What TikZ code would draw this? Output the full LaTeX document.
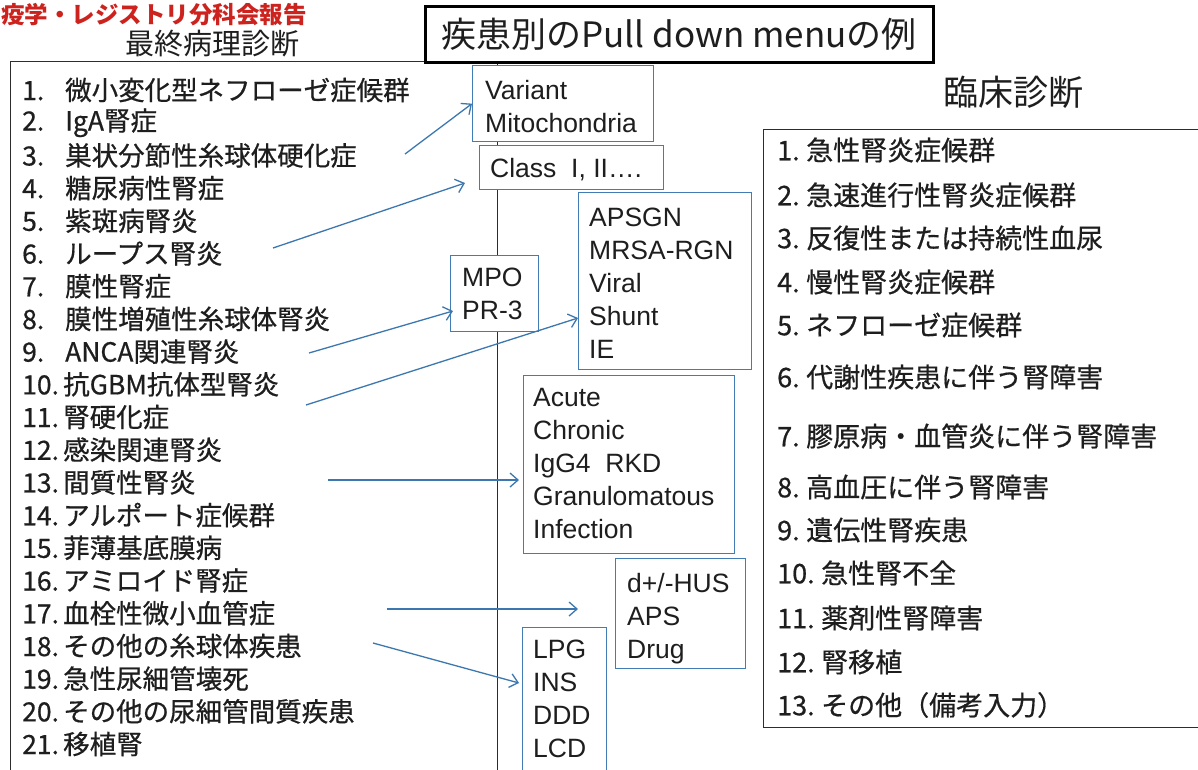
\documentclass[tikz,border=0pt]{standalone}
\usepackage{fontspec}
\setmainfont{Liberation Sans}
\newfontfamily\jp{Noto Sans CJK JP}
\newfontfamily\jpm[FakeBold=0.6]{Noto Sans CJK JP}
\usetikzlibrary{arrows.meta}
\definecolor{bblue}{RGB}{65,125,180}
\definecolor{aline}{RGB}{60,120,175}
\definecolor{rtitle}{RGB}{205,35,30}
\definecolor{ink}{RGB}{30,30,30}
\definecolor{framec}{RGB}{45,45,45}
\newcommand{\Lf}{\jpm\fontsize{26.5}{30}\selectfont}
\newcommand{\Rf}{\jpm\fontsize{27}{30}\selectfont}
\newcommand{\nA}[1]{\makebox[43pt][l]{#1}}
\newcommand{\nB}[1]{\makebox[41pt][l]{#1}}
\newcommand{\rA}[1]{\makebox[29pt][l]{#1}}
\newcommand{\rB}[1]{\makebox[44pt][l]{#1}}
\tikzset{
  litem/.style={anchor=west, inner sep=0pt, font=\Lf, text=ink},
  ritem/.style={anchor=west, inner sep=0pt, font=\Rf, text=ink},
  bbox/.style={draw=bblue, line width=1.3pt, fill=white, anchor=north west, inner sep=0pt},
  btext/.style={anchor=north west, inner sep=0pt, align=left, font=\fontsize{26.5}{33}\selectfont, text=ink},
  conn/.style={draw=aline, line width=1.3pt, -{Straight Barb[length=8pt,width=14pt]}},
  framebox/.style={draw=framec, line width=1.3pt, anchor=north west, inner sep=0pt},
}
\begin{document}
\begin{tikzpicture}[x=1pt,y=-1pt]
\useasboundingbox (0,0) rectangle (1198,769);
\clip (0,0) rectangle (1198,769);
\fill[white] (0,0) rectangle (1198,769);

% frames
\node[framebox, minimum width=487, minimum height=760] (leftframe) at (10,61) {};
\node[framebox, minimum width=470, minimum height=598] (rightframe) at (763,129) {};
\node[draw=black, line width=3pt, fill=white, minimum width=508, minimum height=56, inner sep=0pt,
      font=\jp\fontsize{35}{40}\selectfont, text=ink] (title) at (679,34) {疾患別のPull down menuの例};

% headings
\node[anchor=west, inner sep=0pt, font=\jp\bfseries\fontsize{23.5}{28}\selectfont, text=rtitle] (red) at (1,15) {疫学・レジストリ分科会報告};
\node[inner sep=0pt, font=\jp\fontsize{29}{32}\selectfont, text=ink] (hleft) at (212,44) {最終病理診断};
\node[inner sep=0pt, font=\jp\fontsize{35}{40}\selectfont, text=ink] (hright) at (1013,92) {臨床診断};

% left list
\node[litem] (l1) at (22,90) {\nA{1.}微小変化型ネフローゼ症候群};
\node[litem] (l2) at (22,122.7) {\nA{2.}IgA腎症};
\node[litem] (l3) at (22,155.4) {\nA{3.}巣状分節性糸球体硬化症};
\node[litem] (l4) at (22,188.1) {\nA{4.}糖尿病性腎症};
\node[litem] (l5) at (22,220.8) {\nA{5.}紫斑病腎炎};
\node[litem] (l6) at (22,253.5) {\nA{6.}ループス腎炎};
\node[litem] (l7) at (22,286.2) {\nA{7.}膜性腎症};
\node[litem] (l8) at (22,318.9) {\nA{8.}膜性増殖性糸球体腎炎};
\node[litem] (l9) at (22,351.6) {\nA{9.}ANCA関連腎炎};
\node[litem] (l10) at (22,384.3) {\nB{10.}抗GBM抗体型腎炎};
\node[litem] (l11) at (22,417) {\nB{11.}腎硬化症};
\node[litem] (l12) at (22,449.7) {\nB{12.}感染関連腎炎};
\node[litem] (l13) at (22,482.4) {\nB{13.}間質性腎炎};
\node[litem] (l14) at (22,515.1) {\nB{14.}アルポート症候群};
\node[litem] (l15) at (22,547.8) {\nB{15.}菲薄基底膜病};
\node[litem] (l16) at (22,580.5) {\nB{16.}アミロイド腎症};
\node[litem] (l17) at (22,613.2) {\nB{17.}血栓性微小血管症};
\node[litem] (l18) at (22,645.9) {\nB{18.}その他の糸球体疾患};
\node[litem] (l19) at (22,678.6) {\nB{19.}急性尿細管壊死};
\node[litem] (l20) at (22,711.3) {\nB{20.}その他の尿細管間質疾患};
\node[litem] (l21) at (22,744) {\nB{21.}移植腎};

% right list
\node[ritem] (r1) at (777,150) {\rA{1.}急性腎炎症候群};
\node[ritem] (r2) at (777,195) {\rA{2.}急速進行性腎炎症候群};
\node[ritem] (r3) at (777,238) {\rA{3.}反復性または持続性血尿};
\node[ritem] (r4) at (777,282) {\rA{4.}慢性腎炎症候群};
\node[ritem] (r5) at (777,325) {\rA{5.}ネフローゼ症候群};
\node[ritem] (r6) at (777,377) {\rA{6.}代謝性疾患に伴う腎障害};
\node[ritem] (r7) at (777,436) {\rA{7.}膠原病・血管炎に伴う腎障害};
\node[ritem] (r8) at (777,487) {\rA{8.}高血圧に伴う腎障害};
\node[ritem] (r9) at (777,530) {\rA{9.}遺伝性腎疾患};
\node[ritem] (r10) at (777,573) {\rB{10.}急性腎不全};
\node[ritem] (r11) at (777,618) {\rB{11.}薬剤性腎障害};
\node[ritem] (r12) at (777,662) {\rB{12.}腎移植};
\node[ritem] (r13) at (777,705) {\rB{13.}その他（備考入力）};

% pull-down boxes
\node[bbox, minimum width=181, minimum height=76] (b1) at (472,65) {};
\node[btext] (t1) at (485,80) {Variant\\Mitochondria};
\node[bbox, minimum width=184, minimum height=44] (b2) at (479,145) {};
\node[btext] (t2) at (490,158) {Class\ \ I, II….};
\node[bbox, minimum width=173, minimum height=177] (b3) at (578,192) {};
\node[btext] (t3) at (589,208) {APSGN\\MRSA-RGN\\Viral\\Shunt\\IE};
\node[bbox, minimum width=88, minimum height=76] (b4) at (450,255) {};
\node[btext] (t4) at (462,268) {MPO\\PR-3};
\node[bbox, minimum width=211, minimum height=178] (b5) at (523,375) {};
\node[btext] (t5) at (533,388) {Acute\\Chronic\\IgG4\ \ RKD\\Granulomatous\\Infection};
\node[bbox, minimum width=130, minimum height=110] (b6) at (615,558) {};
\node[btext] (t6) at (627,573) {d+/-HUS\\APS\\Drug};
\node[bbox, minimum width=84, minimum height=170] (b7) at (522,627) {};
\node[btext] (t7) at (533,640) {LPG\\INS\\DDD\\LCD};

% connector ends
\coordinate (s1) at (405,154);
\coordinate (s2) at (273,248);
\coordinate (e2) at (465,183);
\coordinate (s3) at (309,353);
\coordinate (e3) at (453,311);
\coordinate (s4) at (306,405);
\coordinate (e4) at (578,318);
\coordinate (s5) at (328,480);
\coordinate (e5) at (519,480);
\coordinate (s6) at (387,609);
\coordinate (e6) at (578,609);
\coordinate (s7) at (373,643);
\coordinate (e7) at (519,683);

\draw[conn] (s1) -- (b1.west);
\draw[conn] (s2) -- (e2);
\draw[conn] (s3) -- (e3);
\draw[conn] (s4) -- (e4);
\draw[conn] (s5) -- (e5);
\draw[conn] (s6) -- (e6);
\draw[conn] (s7) -- (e7);
\end{tikzpicture}
\end{document}
